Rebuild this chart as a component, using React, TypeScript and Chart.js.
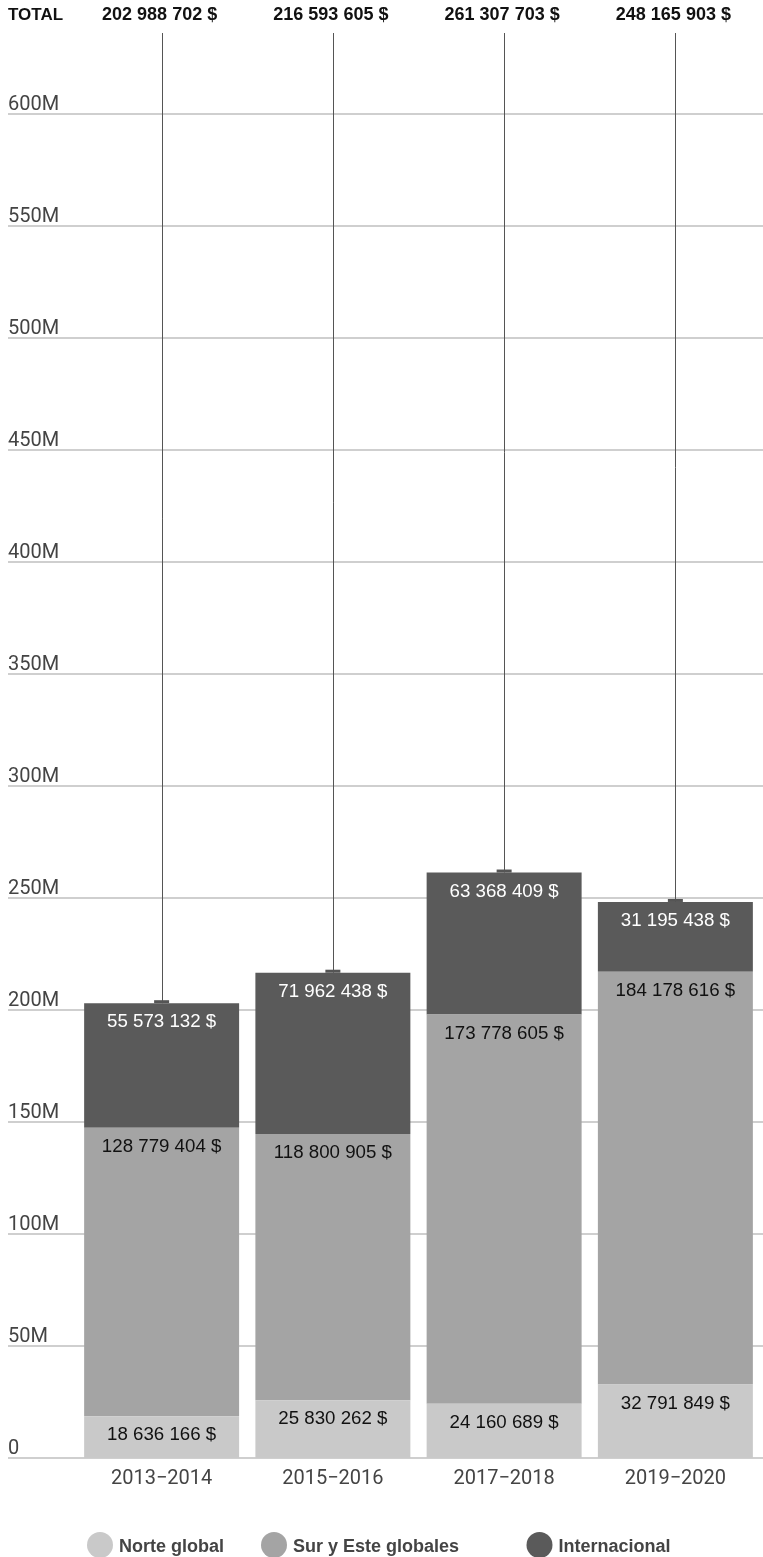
import React, { useEffect, useRef } from "react";
import { Chart, registerables } from "chart.js";

Chart.register(...registerables);

const categories = ["2013\u22122014", "2015\u22122016", "2017\u22122018", "2019\u22122020"];
const norteGlobal = [18636166, 25830262, 24160689, 32791849];
const surEsteGlobales = [128779404, 118800905, 173778605, 184178616];
const internacional = [55573132, 71962438, 63368409, 31195438];
const totals = [202988702, 216593605, 261307703, 248165903];
const yTickValues = [0, 50e6, 100e6, 150e6, 200e6, 250e6, 300e6, 350e6, 400e6, 450e6, 500e6, 550e6, 600e6];
const yTickLabels = ["0", "50M", "100M", "150M", "200M", "250M", "300M", "350M", "400M", "450M", "500M", "550M", "600M"];
const seriesNames = ["Norte global", "Sur y Este globales", "Internacional"];
const seriesColors = ["#c9c9c9", "#a4a4a4", "#5a5a5a"];
const labelColors = ["#111111", "#111111", "#ffffff"];
const totalHeader = "TOTAL";
const legendX = [100, 274, 539.5];

const fmt = (n: number) => String(n).replace(/\B(?=(\d{3})+(?!\d))/g, " ") + " $";

const SANS = "'Liberation Sans', Arial, Helvetica, sans-serif";
const ROBOTO = "Roboto, 'Liberation Sans', sans-serif";

const overlayPlugin = {
  id: "overlay",
  beforeDatasetsDraw(chart: any) {
    const ctx = chart.ctx;
    const y = chart.scales.y;
    const W = chart.width;
    ctx.save();
    ctx.strokeStyle = "#cfcfcf";
    ctx.lineWidth = 2;
    yTickValues.forEach((v, i) => {
      const py = Math.round(y.getPixelForValue(v));
      ctx.beginPath();
      ctx.moveTo(8, py);
      ctx.lineTo(W, py);
      ctx.stroke();
      ctx.fillStyle = "#444444";
      ctx.font = `20px ${ROBOTO}`;
      ctx.textAlign = "left";
      ctx.textBaseline = "alphabetic";
      ctx.fillText(yTickLabels[i], 8, py - 4.5);
    });
    ctx.restore();
  },
  afterDatasetsDraw(chart: any) {
    const ctx = chart.ctx;
    const area = chart.chartArea;
    const metas = [0, 1, 2].map((i) => chart.getDatasetMeta(i));
    ctx.save();
    const series = [norteGlobal, surEsteGlobales, internacional];
    metas.forEach((meta: any, di: number) => {
      meta.data.forEach((bar: any, j: number) => {
        ctx.fillStyle = labelColors[di];
        ctx.font = `18.7px ${SANS}`;
        ctx.textAlign = "center";
        ctx.textBaseline = "middle";
        ctx.fillText(fmt(series[di][j]), bar.x, bar.y + 19);
      });
    });
    const top = metas[2];
    top.data.forEach((bar: any, j: number) => {
      const x = Math.round(bar.x) + 0.5;
      ctx.strokeStyle = "#555555";
      ctx.lineWidth = 1;
      ctx.beginPath();
      ctx.moveTo(x, area.top);
      ctx.lineTo(x, bar.y);
      ctx.stroke();
      ctx.fillStyle = "#555555";
      ctx.fillRect(bar.x - 7.5, bar.y - 3, 15, 3);
      ctx.fillStyle = "#111111";
      ctx.font = `bold 18px ${SANS}`;
      ctx.textAlign = "center";
      ctx.textBaseline = "middle";
      ctx.fillText(fmt(totals[j]), bar.x - 2, 15);
    });
    ctx.fillStyle = "#111111";
    ctx.font = `bold 17px ${SANS}`;
    ctx.textAlign = "left";
    ctx.textBaseline = "middle";
    ctx.fillText(totalHeader, 8, 15);
    const xs = chart.scales.x;
    categories.forEach((c, i) => {
      ctx.fillStyle = "#444444";
      ctx.font = `20px ${ROBOTO}`;
      ctx.textAlign = "center";
      ctx.textBaseline = "middle";
      ctx.fillText(c, xs.getPixelForValue(i), 1479);
    });
    seriesNames.forEach((name, i) => {
      ctx.fillStyle = seriesColors[i];
      ctx.beginPath();
      ctx.arc(legendX[i], 1545, 13, 0, Math.PI * 2);
      ctx.fill();
      ctx.fillStyle = "#444444";
      ctx.font = `bold 18px ${SANS}`;
      ctx.textAlign = "left";
      ctx.textBaseline = "middle";
      ctx.fillText(name, legendX[i] + 19, 1547);
    });
    ctx.restore();
  },
};

export default function App() {
  const ref = useRef<HTMLCanvasElement | null>(null);
  useEffect(() => {
    if (!ref.current) return;
    const chart = new Chart(ref.current, {
      type: "bar",
      data: {
        labels: categories,
        datasets: [
          { label: seriesNames[0], data: norteGlobal, backgroundColor: seriesColors[0] },
          { label: seriesNames[1], data: surEsteGlobales, backgroundColor: seriesColors[1] },
          { label: seriesNames[2], data: internacional, backgroundColor: seriesColors[2] },
        ],
      },
      options: {
        animation: false,
        responsive: true,
        maintainAspectRatio: false,
        layout: { padding: { left: 76, right: 2, top: 33, bottom: 99 } },
        datasets: { bar: { categoryPercentage: 1, barPercentage: 0.905, borderWidth: 0 } },
        scales: {
          x: { stacked: true, display: false },
          y: { stacked: true, display: false, min: 0, max: 636e6 },
        },
        plugins: { legend: { display: false }, tooltip: { enabled: false } },
      },
      plugins: [overlayPlugin],
    } as any);
    return () => chart.destroy();
  }, []);
  return (
    <div style={{ position: "fixed", left: 0, top: 0, width: 763, height: 1557, background: "#fff" }}>
      <canvas ref={ref} />
    </div>
  );
}
